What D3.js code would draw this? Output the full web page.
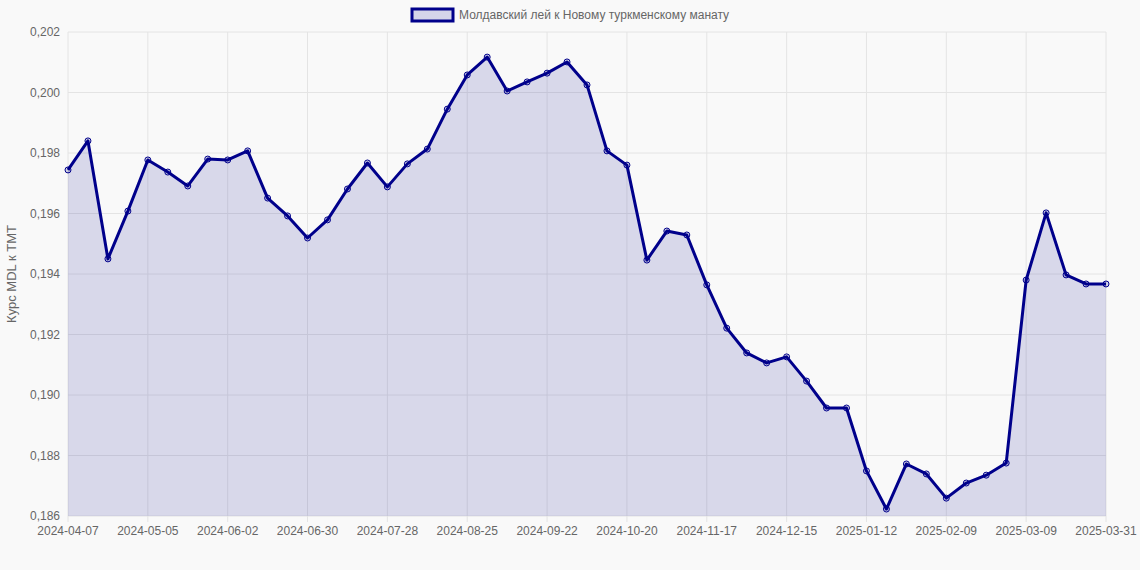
<!DOCTYPE html>
<html><head><meta charset="utf-8">
<script src="https://cdn.jsdelivr.net/npm/d3@7"></script>
<style>body{margin:0;background:#f9f9f9;font-family:"Liberation Sans",Arial,sans-serif}</style>
</head><body><div id="chart"></div>
<script>
const W = 1140, H = 570
const seriesName = 'Молдавский лей к Новому туркменскому манату'
const yTitle = 'Курс MDL к TMT'
const startDate = '2024-04-07'
const lastDate = '2025-03-31'
const values = [0.19744,0.19840,0.19450,0.19608,0.19777,0.19737,0.19691,0.19780,0.19777,0.19807,
  0.19651,0.19592,0.19519,0.19579,0.19681,0.19767,0.19688,0.19764,0.19813,0.19945,
  0.20058,0.20117,0.20005,0.20035,0.20064,0.20101,0.20025,0.19807,0.19760,0.19446,
  0.19542,0.19529,0.19364,0.19221,0.19139,0.19106,0.19126,0.19046,0.18957,0.18957,
  0.18749,0.18623,0.18772,0.18739,0.18659,0.18709,0.18735,0.18775,0.19380,0.19602,
  0.19397,0.19367,0.19367]
const yTicks = [0.186,0.188,0.190,0.192,0.194,0.196,0.198,0.200,0.202]

const fmt = d3.timeFormat('%Y-%m-%d')
const labels = values.map((v, i) => i === values.length - 1 ? lastDate
  : fmt(d3.timeDay.offset(d3.timeParse('%Y-%m-%d')(startDate), 7 * i)))

const m = {l: 68, r: 34, t: 32, b: 54}
const svg = d3.select('#chart').append('svg').attr('width', W).attr('height', H)
    .style('font-family', '"Liberation Sans",Arial,sans-serif')

const x = d3.scalePoint().domain(d3.range(values.length)).range([m.l, W - m.r])
const y = d3.scaleLinear().domain([0.186, 0.202]).range([H - m.b, m.t])

// grid
svg.append('g').selectAll('line').data(yTicks).join('line')
    .attr('x1', m.l).attr('x2', W - m.r).attr('y1', y).attr('y2', y)
    .attr('stroke', '#e4e4e4')
const xTickIdx = d3.range(0, values.length, 4)
svg.append('g').selectAll('line').data(xTickIdx).join('line')
    .attr('x1', x).attr('x2', x).attr('y1', m.t).attr('y2', H - m.b + 6)
    .attr('stroke', '#e4e4e4')

svg.append('g').selectAll('text').data(yTicks).join('text')
    .attr('x', m.l - 8).attr('y', d => y(d) + 4).attr('text-anchor', 'end')
    .attr('font-size', 12).attr('fill', '#666')
    .text(d => d3.format('.3f')(d).replace('.', ','))
svg.append('g').selectAll('text').data(xTickIdx).join('text')
    .attr('x', x).attr('y', H - m.b + 19).attr('text-anchor', 'middle')
    .attr('font-size', 12).attr('fill', '#666')
    .text(i => labels[i])

svg.append('text').attr('transform', `translate(16,${(m.t + H - m.b) / 2}) rotate(-90)`)
    .attr('text-anchor', 'middle').attr('font-size', 13).attr('fill', '#666').text(yTitle)

const area = d3.area().x((d, i) => x(i)).y0(y(0.186)).y1(d => y(d))
const line = d3.line().x((d, i) => x(i)).y(d => y(d))
svg.append('path').datum(values).attr('d', area).attr('fill', 'rgba(0,0,139,0.13)')
svg.append('path').datum(values).attr('d', line).attr('fill', 'none')
    .attr('stroke', '#00008b').attr('stroke-width', 3).attr('stroke-linejoin', 'round')
svg.append('g').selectAll('circle').data(values).join('circle')
    .attr('cx', (d, i) => x(i)).attr('cy', y).attr('r', 3)
    .attr('fill', 'rgba(0,0,139,0.15)').attr('stroke', '#00008b').attr('stroke-width', 1)

// legend
svg.append('rect').attr('x', 412).attr('y', 9).attr('width', 41).attr('height', 12)
    .attr('fill', 'rgba(0,0,139,0.15)').attr('stroke', '#00008b').attr('stroke-width', 3)
svg.append('text').attr('x', 459).attr('y', 19).attr('font-size', 12).attr('fill', '#666')
    .text(seriesName)
</script></body></html>
